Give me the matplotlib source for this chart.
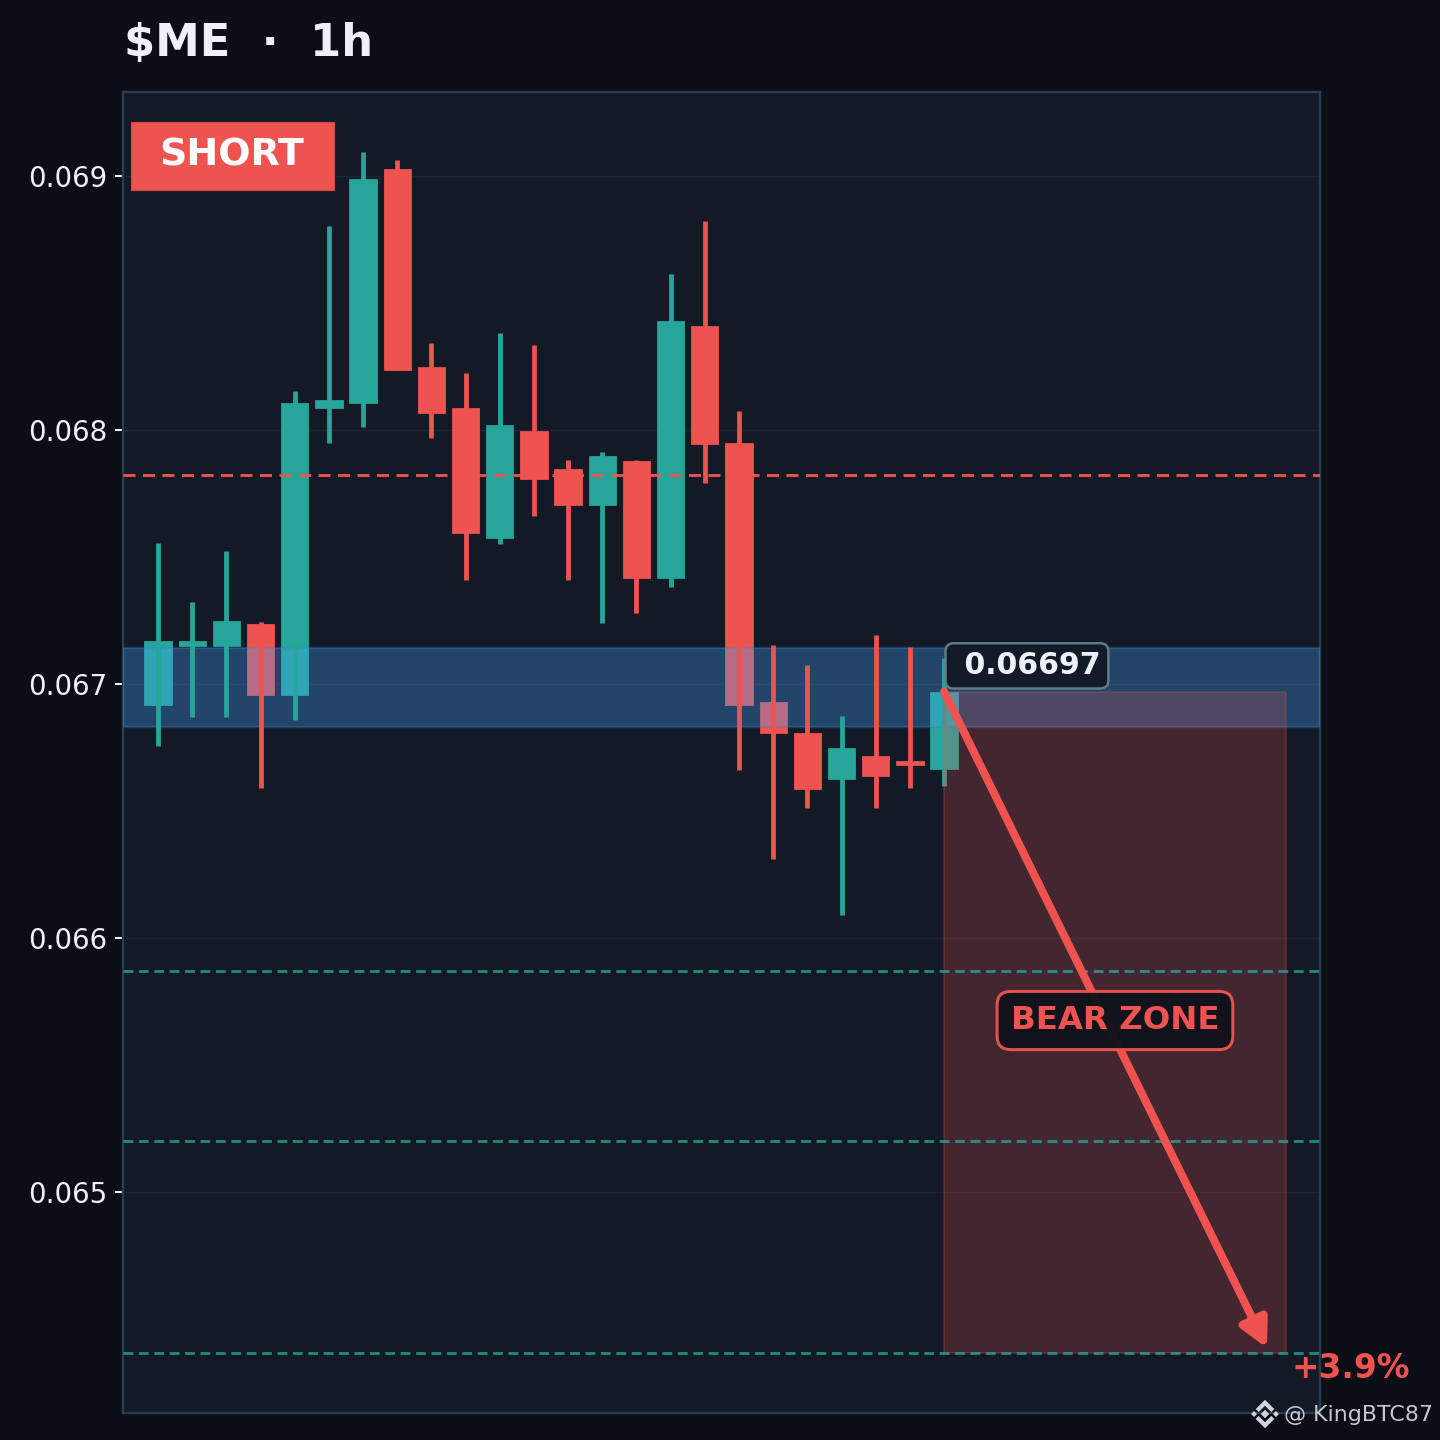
import matplotlib
matplotlib.use("Agg")
import matplotlib.pyplot as plt
from matplotlib.patches import FancyArrowPatch, Polygon, Rectangle

opens = [.066917, .06715, .06715, .067236, .066957, .068087, .068106, .069028, .068248, .068087, .067575, .067996,
         .067846, .067705, .067878, .067417, .068409, .06795, .066929, .066807, .066626, .066717, .066695, .066665]
highs = [.067555, .067323, .067524, .067244, .068154, .068803, .069094, .069063, .068343, .068224, .068382, .068335,
         .067882, .067913, .067882, .068614, .068823, .068075, .067154, .067075, .066874, .067193, .067146, .067102]
lows = [.066756, .06687, .06687, .066591, .066858, .067949, .068012, .068236, .067969, .06741, .067551, .067661,
        .06741, .06724, .06728, .067382, .067791, .066661, .066311, .066512, .066091, .066512, .066591, .066598]
closes = [.067169, .06717, .067248, .066957, .068106, .068118, .068988, .068236, .068067, .067594, .06802, .067807,
          .067705, .067898, .067417, .068429, .067945, .066917, .066807, .066587, .066748, .066638, .06668, .06697]

yticks = [0.065, 0.066, 0.067, 0.068, 0.069]
zone_low = 0.066831
zone_high = 0.067142
stop_level = 0.067823
targets = [0.065868, 0.0652, 0.064366]
entry = 0.06697
arrow_end = 0.064386

GREEN = "#26a69a"
RED = "#ef5350"
BG = "#0a0e16"
PANEL = "#131a26"

fig = plt.figure(figsize=(10, 10), dpi=144, facecolor=BG)
ax = fig.add_axes([123 / 1440, 1 - 1413 / 1440, 1197 / 1440, 1321 / 1440], facecolor=PANEL)

for i in range(len(opens)):
    col = GREEN if closes[i] >= opens[i] else RED
    ax.plot([i, i], [lows[i], highs[i]], color=col, lw=2.4, solid_capstyle="butt", zorder=4)
    ax.bar(i, abs(closes[i] - opens[i]), bottom=min(opens[i], closes[i]), width=0.8, color=col,
           edgecolor=col, linewidth=0.4, zorder=2)

# zone sits over the bodies but under the wicks
ax.axhspan(zone_low, zone_high, facecolor="#43a1f7", alpha=0.32, edgecolor="#3b82c4", lw=1.2, zorder=3)

ax.add_patch(Rectangle((23, targets[2]), 10, entry - targets[2], facecolor=RED, alpha=0.22,
                       edgecolor=RED, lw=1, zorder=6))

ax.axhline(stop_level, color=RED, lw=1.5, ls=(0, (4, 2.5)), alpha=0.95, zorder=6.5)
for t in targets:
    ax.axhline(t, color=GREEN, lw=1.4, ls=(0, (3.5, 2)), alpha=0.8, zorder=6.5)

arrow = FancyArrowPatch((23, entry), (32.45, arrow_end), arrowstyle="-|>,head_length=0.52,head_width=0.27",
                        mutation_scale=22, color=RED, lw=4, shrinkA=0, shrinkB=0, zorder=7)
ax.add_patch(arrow)

ax.text(23.28, 0.067071, " 0.06697", color="#eef2f8", fontsize=15, fontweight="bold", va="center", zorder=9,
        bbox=dict(boxstyle="round,pad=0.27", fc=PANEL, ec="#64808f", lw=1.2, alpha=0.97))
ax.text(28.0, 0.065675, "BEAR ZONE", color=RED, fontsize=16.2, fontweight="bold", ha="center", va="center", zorder=9,
        bbox=dict(boxstyle="round,pad=0.42", fc="#10121b", ec=RED, lw=1.5, alpha=0.97))

ax.set_xlim(-1.024, 34.0)
ax.set_ylim(0.06413, 0.06933)
ax.set_xticks([])
ax.set_yticks(yticks)
ax.set_yticklabels(["%.3f" % t for t in yticks])
ax.tick_params(axis="y", colors="#eef2f8", labelsize=13.8, length=4, width=1, pad=4)
ax.grid(axis="y", color="#1f2733", alpha=0.85, lw=0.7, zorder=3.5)
for line in ax.get_ygridlines():
    line.set_zorder(3.5)
for s in ax.spines.values():
    s.set_color("#2a3a52")
    s.set_linewidth(1.2)

# fixed labels placed on the figure
fig.text(124 / 1440, 1 - 44 / 1440, "$ME  ·  1h", color="#eef2f8", fontsize=22.4, fontweight="bold",
         va="center", parse_math=False)
fig.add_artist(Rectangle((131 / 1440, 1 - 190 / 1440), 202.5 / 1440, 68 / 1440, transform=fig.transFigure,
                         facecolor=RED, edgecolor="#c94a48", lw=0.6, zorder=5))
fig.text(232 / 1440, 1 - 155 / 1440, "SHORT", color="white", fontsize=19, fontweight="bold",
         ha="center", va="center", zorder=6)
fig.text(1351 / 1440, 1 - 1369 / 1440, "+3.9%", color=RED, fontsize=16.4, fontweight="bold",
         ha="center", va="center", zorder=6)
fig.text(1284 / 1440, 1 - 1415 / 1440, "@ KingBTC87", color="#c4c8d0", fontsize=11.05, va="center", zorder=6)

# binance logo
logo = fig.add_axes([1250 / 1440, 1 - 1429 / 1440, 30 / 1440, 30 / 1440])
logo.axis("off")
logo.set_xlim(-1, 1)
logo.set_ylim(-1, 1)
for dx, half in [(0, .28), (-.73, .2), (.73, .2)]:
    logo.add_patch(Polygon([(dx - half, 0), (dx, half), (dx + half, 0), (dx, -half)], fc="#d0d3d8", ec="none"))
for sgn in [1, -1]:
    logo.add_patch(Polygon([(0, sgn * .95), (.62, sgn * .33), (.42, sgn * .13), (0, sgn * .55), (-.42, sgn * .13),
                            (-.62, sgn * .33)], fc="#d0d3d8", ec="none"))

plt.savefig("out.png", dpi=144, facecolor=BG)
